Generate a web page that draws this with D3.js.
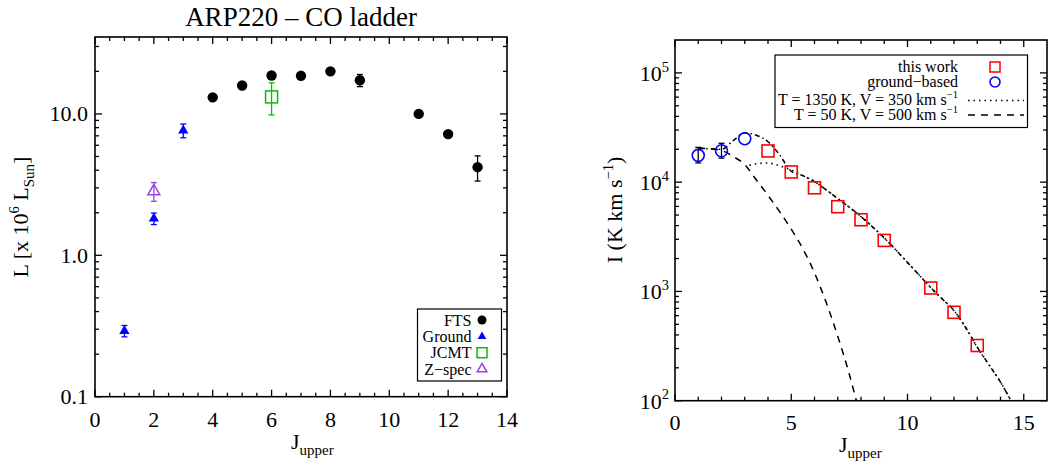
<!DOCTYPE html>
<html><head><meta charset="utf-8">
<script src="https://cdn.jsdelivr.net/npm/d3@7"></script>
<style>
body{margin:0;background:#fff}
svg{display:block}
text{font-family:"Liberation Serif","Times New Roman",serif;fill:#000}
</style>
</head><body><svg id="c" width="1048" height="468"></svg>
<script>
// ---------- Left panel data (L in 1e6 Lsun) ----------
const ftsJ   = [4, 5, 6, 7, 8, 9, 11, 12, 13];
const ftsL   = [13.1, 15.9, 18.7, 18.6, 20.0, 17.3, 10.0, 7.2, 4.2];
const ftsErr = [0.3, 0.4, 0.5, 0.5, 0.5, 1.7, 0.3, 0.2, 0.85];
const groundJ   = [1, 2, 3];
const groundL   = [0.292, 1.82, 7.63];
const groundErr = [0.027, 0.17, 0.85];
const jcmtJ  = [6];
const jcmtL  = [13.2];
const jcmtLo = [9.84];
const jcmtHi = [16.6];
const zspecJ  = [2];
const zspecL  = [2.84];
const zspecErr = [0.43];
const leftXTicks = [0, 2, 4, 6, 8, 10, 12, 14];
const leftYTicks = [0.1, 1, 10];
const leftLegend = ["FTS", "Ground", "JCMT", "Z\u2212spec"];

// ---------- Right panel data (I in K km/s) ----------
const thisJ = [4, 5, 6, 7, 8, 9, 11, 12, 13];
const thisI = [19300, 12400, 8880, 5960, 4530, 2930, 1075, 644, 320];
const gbJ  = [1, 2, 3];
const gbI  = [17600, 19400, 25000];
const gbLo = [15000, 16600, null];
const gbHi = [20800, 22700, null];
const sumJ   = [1, 1.5, 2, 2.5, 3, 3.5, 4, 4.5, 5, 5.5, 6, 6.5, 7, 7.5, 8, 8.5, 9, 9.5, 10, 10.5, 11, 11.5, 12, 12.5, 13, 13.5, 14, 14.45];
const sumLog = [4.31, 4.305, 4.30, 4.38, 4.45, 4.43, 4.37, 4.25, 4.10, 4.06, 4.005, 3.93, 3.85, 3.77, 3.685, 3.59, 3.49, 3.38, 3.265, 3.15, 3.035, 2.93, 2.825, 2.67, 2.49, 2.33, 2.17, 2.0];
const hotJ   = [3.2, 3.5, 4, 4.5, 5, 5.5, 6, 6.5, 7, 7.5, 8, 8.5, 9, 9.5, 10, 10.5, 11, 11.5, 12, 12.5, 13, 13.5, 14, 14.45];
const hotLog = [4.155, 4.168, 4.175, 4.15, 4.11, 4.06, 4.005, 3.93, 3.85, 3.77, 3.685, 3.59, 3.49, 3.38, 3.265, 3.15, 3.035, 2.93, 2.825, 2.67, 2.49, 2.33, 2.17, 2.0];
const coldJ   = [1, 1.5, 2, 2.5, 3, 3.5, 4, 4.5, 5, 5.5, 6, 6.5, 7, 7.5, 7.8];
const coldLog = [4.31, 4.305, 4.29, 4.235, 4.16, 4.02, 3.88, 3.73, 3.57, 3.39, 3.17, 2.90, 2.59, 2.24, 2.0];
const rightXTicks = [0, 5, 10, 15];
const rightYExp = [2, 3, 4, 5];

const svg = d3.select("#c");

function rich(t, parts, base) {
  let cur = 0;
  parts.forEach(([s, k]) => {
    const ts = t.append("tspan").text(s);
    let target = 0, fs = base;
    if (k === "sup") { target = -base * 0.42; fs = base * 0.66; }
    if (k === "sub") { target = base * 0.28; fs = base * 0.68; }
    ts.attr("dy", target - cur).attr("font-size", fs);
    cur = target;
  });
  return t;
}

function frameAndTicks(g, x, y, xMaj, xMin, yMaj, yMin) {
  const [x0, x1] = x.range(), [yb, yt] = y.range();
  const M = 7, m = 4;
  const lines = [];
  xMaj.forEach(v => { lines.push([x(v), yb, x(v), yb - M], [x(v), yt, x(v), yt + M]); });
  xMin.forEach(v => { lines.push([x(v), yb, x(v), yb - m], [x(v), yt, x(v), yt + m]); });
  yMaj.forEach(v => { lines.push([x0, y(v), x0 + M, y(v)], [x1, y(v), x1 - M, y(v)]); });
  yMin.forEach(v => { lines.push([x0, y(v), x0 + m, y(v)], [x1, y(v), x1 - m, y(v)]); });
  g.append("g").selectAll("line").data(lines).join("line")
    .attr("x1", d => d[0]).attr("y1", d => d[1]).attr("x2", d => d[2]).attr("y2", d => d[3])
    .attr("stroke", "#000").attr("stroke-width", 1.3);
  g.append("rect").attr("x", x0).attr("y", yt).attr("width", x1 - x0).attr("height", yb - yt)
    .attr("fill", "none").attr("stroke", "#000").attr("stroke-width", 1.6);
}

function logMinors(lo, hi) {
  const out = [];
  for (let e = Math.floor(Math.log10(lo)); e <= Math.ceil(Math.log10(hi)); e++)
    for (let k = 2; k <= 9; k++) { const v = k * Math.pow(10, e); if (v > lo && v < hi) out.push(v); }
  return out;
}

function errBars(g, data, color, cap) {
  g.append("g").selectAll("g").data(data).join("g").each(function(d) {
    const s = d3.select(this);
    s.append("line").attr("x1", d.x).attr("x2", d.x).attr("y1", d.y1).attr("y2", d.y2).attr("stroke", color).attr("stroke-width", 1.3);
    s.append("line").attr("x1", d.x - cap).attr("x2", d.x + cap).attr("y1", d.y1).attr("y2", d.y1).attr("stroke", color).attr("stroke-width", 1.3);
    s.append("line").attr("x1", d.x - cap).attr("x2", d.x + cap).attr("y1", d.y2).attr("y2", d.y2).attr("stroke", color).attr("stroke-width", 1.3);
  });
}

// ================= LEFT PANEL =================
const xL = d3.scaleLinear().domain([0, 14]).range([95, 507]);
const yL = d3.scaleLog().domain([0.1, 35]).range([396.7, 37]);
const gL = svg.append("g");

gL.append("text").attr("x", 301).attr("y", 25.5).attr("text-anchor", "middle")
  .attr("font-size", 27).text("ARP220 \u2013 CO ladder");

errBars(gL, ftsJ.map((j, i) => ({x: xL(j), y1: yL(ftsL[i] + ftsErr[i]), y2: yL(ftsL[i] - ftsErr[i])})), "#000", 3);
errBars(gL, groundJ.map((j, i) => ({x: xL(j), y1: yL(groundL[i] + groundErr[i]), y2: yL(groundL[i] - groundErr[i])})), "#0000ff", 3);
errBars(gL, jcmtJ.map((j, i) => ({x: xL(j), y1: yL(jcmtHi[i]), y2: yL(jcmtLo[i])})), "#00c000", 3);
errBars(gL, zspecJ.map((j, i) => ({x: xL(j), y1: yL(zspecL[i] + zspecErr[i]), y2: yL(zspecL[i] - zspecErr[i])})), "#a040e0", 3);

gL.append("g").selectAll("circle").data(ftsJ.map((j, i) => [j, ftsL[i]])).join("circle")
  .attr("cx", d => xL(d[0])).attr("cy", d => yL(d[1])).attr("r", 5.2).attr("fill", "#000");
const triF = d3.symbol(d3.symbolTriangle, 46);
gL.append("g").selectAll("path").data(groundJ.map((j, i) => [j, groundL[i]])).join("path")
  .attr("d", triF).attr("transform", d => `translate(${xL(d[0])},${yL(d[1])})`).attr("fill", "#0000ff");
gL.append("g").selectAll("rect").data(jcmtJ.map((j, i) => [j, jcmtL[i]])).join("rect")
  .attr("x", d => xL(d[0]) - 6).attr("y", d => yL(d[1]) - 6).attr("width", 12).attr("height", 12)
  .attr("fill", "none").attr("stroke", "#00c000").attr("stroke-width", 1.5);
const triO = d3.symbol(d3.symbolTriangle, 62);
gL.append("g").selectAll("path").data(zspecJ.map((j, i) => [j, zspecL[i]])).join("path")
  .attr("d", triO).attr("transform", d => `translate(${xL(d[0])},${yL(d[1])})`)
  .attr("fill", "none").attr("stroke", "#a040e0").attr("stroke-width", 1.5);

const xLmin = d3.range(0, 14.01, 0.5).filter(v => v % 2 !== 0);
frameAndTicks(gL, xL, yL, leftXTicks, xLmin, leftYTicks, logMinors(0.1, 35));
gL.append("g").selectAll("text").data(leftXTicks).join("text")
  .attr("x", d => xL(d)).attr("y", 427).attr("text-anchor", "middle").attr("font-size", 22).text(d => d);
gL.append("g").selectAll("text").data(leftYTicks).join("text")
  .attr("x", 88).attr("y", d => yL(d) + 7.5).attr("text-anchor", "end").attr("font-size", 22).text(d => d3.format(".1f")(d));
rich(gL.append("text").attr("x", 291).attr("y", 449).attr("font-size", 22), [["J", "n"], ["upper", "sub"]], 22);
rich(gL.append("text").attr("transform", "translate(28,217) rotate(-90)").attr("text-anchor", "middle").attr("font-size", 22),
  [["L [x 10", "n"], ["6", "sup"], [" L", "n"], ["Sun", "sub"], ["]", "n"]], 22);

const lg = gL.append("g");
lg.append("rect").attr("x", 417.5).attr("y", 309).attr("width", 84).attr("height", 72)
  .attr("fill", "#fff").attr("stroke", "#000").attr("stroke-width", 1.2);
const lyc = [320, 336.5, 352.7, 369];
lg.selectAll("text").data(leftLegend).join("text").attr("x", 471.5).attr("y", (d, i) => lyc[i] + 5.5)
  .attr("text-anchor", "end").attr("font-size", 16).text(d => d);
lg.append("circle").attr("cx", 482).attr("cy", lyc[0]).attr("r", 4.5).attr("fill", "#000");
lg.append("path").attr("d", d3.symbol(d3.symbolTriangle, 32)).attr("transform", `translate(482,${lyc[1]})`).attr("fill", "#0000ff");
lg.append("rect").attr("x", 477).attr("y", lyc[2] - 5).attr("width", 10).attr("height", 10).attr("fill", "none").attr("stroke", "#00c000").attr("stroke-width", 1.5);
lg.append("path").attr("d", d3.symbol(d3.symbolTriangle, 40)).attr("transform", `translate(482,${lyc[3]})`).attr("fill", "none").attr("stroke", "#a040e0").attr("stroke-width", 1.5);

// ================= RIGHT PANEL =================
const xR = d3.scaleLinear().domain([0, 16]).range([675, 1047]);
const yR = d3.scaleLog().domain([100, 2e5]).range([400.7, 40]);
const gR = svg.append("g");
const clip = svg.append("defs").append("clipPath").attr("id", "cr");
clip.append("rect").attr("x", 675).attr("y", 40).attr("width", 372).attr("height", 360.7);

const line = d3.line().x(d => xR(d[0])).y(d => yR(Math.pow(10, d[1]))).curve(d3.curveMonotoneX);
const curves = gR.append("g").attr("clip-path", "url(#cr)");
curves.append("path").attr("d", line(coldJ.map((j, i) => [j, coldLog[i]])))
  .attr("fill", "none").attr("stroke", "#000").attr("stroke-width", 1.5).attr("stroke-dasharray", "7,6");
curves.append("path").attr("d", line(hotJ.map((j, i) => [j, hotLog[i]])))
  .attr("fill", "none").attr("stroke", "#000").attr("stroke-width", 1.6).attr("stroke-dasharray", "1.5,4");
curves.append("path").attr("d", line(sumJ.map((j, i) => [j, sumLog[i]])))
  .attr("fill", "none").attr("stroke", "#000").attr("stroke-width", 1.5).attr("stroke-dasharray", "5,3,1.5,3");

errBars(gR, gbJ.map((j, i) => ({j, i})).filter(d => gbLo[d.i] != null)
  .map(d => ({x: xR(d.j), y1: yR(gbHi[d.i]), y2: yR(gbLo[d.i])})), "#000", 3);

gR.append("g").selectAll("rect").data(thisJ.map((j, i) => [j, thisI[i]])).join("rect")
  .attr("x", d => xR(d[0]) - 6).attr("y", d => yR(d[1]) - 6).attr("width", 12).attr("height", 12)
  .attr("fill", "none").attr("stroke", "#ff0000").attr("stroke-width", 1.6);
gR.append("g").selectAll("circle").data(gbJ.map((j, i) => [j, gbI[i]])).join("circle")
  .attr("cx", d => xR(d[0])).attr("cy", d => yR(d[1])).attr("r", 6)
  .attr("fill", "none").attr("stroke", "#0000ff").attr("stroke-width", 1.6);

frameAndTicks(gR, xR, yR, rightXTicks, d3.range(1, 16).filter(v => v % 5 !== 0),
  rightYExp.map(e => Math.pow(10, e)), logMinors(100, 2e5));
gR.append("g").selectAll("text").data(rightXTicks).join("text")
  .attr("x", d => xR(d)).attr("y", 430).attr("text-anchor", "middle").attr("font-size", 22).text(d => d);
gR.append("g").selectAll("text").data(rightYExp).join("text")
  .attr("x", 669).attr("y", d => yR(Math.pow(10, d)) + 8).attr("text-anchor", "end").attr("font-size", 22)
  .each(function(d) { rich(d3.select(this), [["10", "n"], [String(d), "sup"]], 22); });
rich(gR.append("text").attr("x", 839).attr("y", 452).attr("font-size", 22), [["J", "n"], ["upper", "sub"]], 22);
rich(gR.append("text").attr("transform", "translate(622,210) rotate(-90)").attr("text-anchor", "middle").attr("font-size", 22),
  [["I (K km s", "n"], ["\u22121", "sup"], [")", "n"]], 22);

const rg = gR.append("g");
rg.append("rect").attr("x", 775).attr("y", 55).attr("width", 252.5).attr("height", 72.5)
  .attr("fill", "#fff").attr("stroke", "#000").attr("stroke-width", 1.2);
const ryc = [67, 82, 99.5, 115];
rich(rg.append("text").attr("x", 958).attr("y", ryc[0] + 5).attr("text-anchor", "end").attr("font-size", 16), [["this work", "n"]], 16);
rich(rg.append("text").attr("x", 958).attr("y", ryc[1] + 5).attr("text-anchor", "end").attr("font-size", 16), [["ground\u2212based", "n"]], 16);
rich(rg.append("text").attr("x", 958).attr("y", ryc[2] + 5).attr("text-anchor", "end").attr("font-size", 16),
  [["T = 1350 K, V = 350 km s", "n"], ["\u22121", "sup"]], 16);
rich(rg.append("text").attr("x", 958).attr("y", ryc[3] + 5).attr("text-anchor", "end").attr("font-size", 16),
  [["T = 50 K, V = 500 km s", "n"], ["\u22121", "sup"]], 16);
rg.append("rect").attr("x", 990).attr("y", ryc[0] - 5).attr("width", 10).attr("height", 10)
  .attr("fill", "none").attr("stroke", "#ff0000").attr("stroke-width", 1.5);
rg.append("circle").attr("cx", 995).attr("cy", ryc[1]).attr("r", 5).attr("fill", "none").attr("stroke", "#0000ff").attr("stroke-width", 1.6);
rg.append("line").attr("x1", 968).attr("x2", 1024).attr("y1", ryc[2] + 1).attr("y2", ryc[2] + 1)
  .attr("stroke", "#000").attr("stroke-width", 1.6).attr("stroke-dasharray", "1.5,4");
rg.append("line").attr("x1", 968).attr("x2", 1024).attr("y1", ryc[3]).attr("y2", ryc[3])
  .attr("stroke", "#000").attr("stroke-width", 1.5).attr("stroke-dasharray", "7,6");
</script></body></html>
